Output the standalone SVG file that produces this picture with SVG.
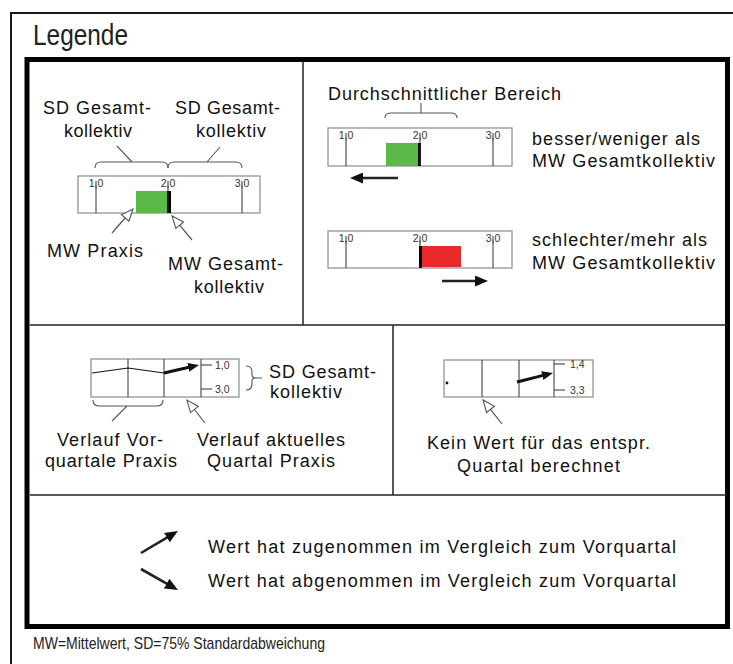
<svg xmlns="http://www.w3.org/2000/svg" width="733" height="664" viewBox="0 0 733 664">
<defs>
<style>
.t{font-family:"Liberation Sans",Arial,sans-serif;font-size:18px;fill:#111}
.s{font-family:"Liberation Sans",Arial,sans-serif;font-size:10.5px;fill:#333}
.frame{fill:none;stroke:#1a1a1a;stroke-width:2}
.div{fill:none;stroke:#222;stroke-width:1.5}
.box{fill:#fff;stroke:#8a8a8a;stroke-width:1.2}
.tick{stroke:#333;stroke-width:1;fill:none}
.br{fill:none;stroke:#555;stroke-width:1.1}
.ptr{fill:none;stroke:#555;stroke-width:1.2;marker-end:url(#hollow)}
.arr{fill:none;stroke:#222;stroke-width:2.6;marker-end:url(#ah)}
.carr{fill:none;stroke:#111;stroke-width:3;marker-end:url(#ahs)}
</style>
<marker id="hollow" viewBox="-1 -1 14 12" refX="0" refY="5" markerWidth="14" markerHeight="12" orient="auto" markerUnits="userSpaceOnUse">
<path d="M0,0 L12,5 L0,10 Z" fill="#fff" stroke="#555" stroke-width="1.1"/>
</marker>
<marker id="ah" viewBox="0 0 13 11" refX="3" refY="5.5" markerWidth="13" markerHeight="11" orient="auto" markerUnits="userSpaceOnUse">
<path d="M0,0 L13,5.5 L0,11 Z" fill="#111"/>
</marker>
<marker id="ahs" viewBox="0 0 11 9" refX="3" refY="4.5" markerWidth="11" markerHeight="9" orient="auto" markerUnits="userSpaceOnUse">
<path d="M0,0 L11,4.5 L0,9 Z" fill="#111"/>
</marker>
</defs>
<rect width="733" height="664" fill="#fff"/>
<g id="frame">
<path class="frame" d="M11,664 L11,13 L733,13"/>
<text x="33" y="45" font-family="'Liberation Sans',Arial,sans-serif" font-size="30" fill="#222" textLength="95" lengthAdjust="spacingAndGlyphs">Legende</text>
<rect x="27" y="59.5" width="700.5" height="567" fill="none" stroke="#000" stroke-width="5"/>
<path class="div" d="M303,62 L303,325 M30,325 L727,325 M393,325 L393,495 M30,495 L727,495"/>
<text x="33" y="649" font-family="'Liberation Sans',Arial,sans-serif" font-size="17" fill="#222" textLength="292" lengthAdjust="spacingAndGlyphs">MW=Mittelwert, SD=75% Standardabweichung</text>
</g>
<g id="panel-sd">
<text class="t" x="43" y="114" textLength="108">SD Gesamt-</text>
<text class="t" x="64" y="137" textLength="68">kollektiv</text>
<text class="t" x="175" y="114" textLength="105">SD Gesamt-</text>
<text class="t" x="196" y="137" textLength="70">kollektiv</text>
<path class="br" d="M95,168 Q95,162 101,162 L162,162 Q168,162 168,168 M132,162 L117,146"/>
<path class="br" d="M168,168 Q168,162 174,162 L236,162 Q242,162 242,168 M207,162 L220,147"/>
<rect class="box" x="78" y="176" width="182" height="37"/>
<rect x="136" y="191" width="31" height="22" fill="#5ab947"/>
<rect x="167" y="191" width="4" height="22" fill="#000"/>
<path class="tick" d="M96,181 L96,213 M168,181 L168,213 M242,181 L242,213"/>
<text class="s" x="96" y="187" text-anchor="middle">1,0</text>
<text class="s" x="168" y="187" text-anchor="middle">2,0</text>
<text class="s" x="242" y="187" text-anchor="middle">3,0</text>
<text class="t" x="47" y="257" textLength="96">MW Praxis</text>
<text class="t" x="168" y="270" textLength="115">MW Gesamt-</text>
<text class="t" x="194" y="293" textLength="70">kollektiv</text>
</g>
<g id="panel-range">
<text class="t" x="328" y="100" textLength="233">Durchschnittlicher Bereich</text>
<path class="br" d="M385,118 Q385,113 391,113 L451,113 Q457,113 457,118 M421,113 L421,103"/>
<rect class="box" x="328" y="128" width="184" height="38"/>
<rect x="386" y="143" width="32" height="23" fill="#5ab947"/>
<rect x="418" y="143" width="3" height="23" fill="#000"/>
<path class="tick" d="M346,133 L346,166 M420,133 L420,166 M493,133 L493,166"/>
<text class="s" x="346" y="139" text-anchor="middle">1,0</text>
<text class="s" x="420" y="139" text-anchor="middle">2,0</text>
<text class="s" x="493" y="139" text-anchor="middle">3,0</text>
<text class="t" x="532" y="145" textLength="168">besser/weniger als</text>
<text class="t" x="532" y="167" textLength="183">MW Gesamtkollektiv</text>
<rect class="box" x="328" y="231" width="184" height="37"/>
<rect x="419" y="246" width="3" height="22" fill="#000"/>
<rect x="422" y="246" width="39" height="21" fill="#e8282a"/>
<path class="tick" d="M346,236 L346,268 M420,236 L420,246 M493,236 L493,268"/>
<text class="s" x="346" y="242" text-anchor="middle">1,0</text>
<text class="s" x="420" y="242" text-anchor="middle">2,0</text>
<text class="s" x="493" y="242" text-anchor="middle">3,0</text>
<text class="t" x="532" y="246" textLength="175">schlechter/mehr als</text>
<text class="t" x="532" y="269" textLength="183">MW Gesamtkollektiv</text>
</g>
<g id="panel-trend">
<rect class="box" x="91" y="359" width="148" height="38"/>
<path class="tick" d="M128,359 L128,397 M164,359 L164,397 M201,359 L201,397 M201,365 L212,365 M201,389 L212,389"/>
<text class="s" x="215" y="369">1,0</text>
<text class="s" x="215" y="393">3,0</text>
<polyline points="92,373 128,368 164,373" fill="none" stroke="#111" stroke-width="1.2"/>
<path class="br" d="M93,400 Q93,406 99,406 L157,406 Q163,406 163,400 M127,406 L112,421"/>
<path class="br" d="M246,366 Q252,366 252,372 L252,375 Q252,378 256,378 L262,378 M256,378 Q252,378 252,381 L252,384 Q252,390 246,390"/>
<text class="t" x="269" y="378" textLength="107">SD Gesamt-</text>
<text class="t" x="270" y="398" textLength="72">kollektiv</text>
<text class="t" x="57" y="446" textLength="106">Verlauf Vor-</text>
<text class="t" x="45" y="467" textLength="132">quartale Praxis</text>
<text class="t" x="197" y="446" textLength="148">Verlauf aktuelles</text>
<text class="t" x="207" y="467" textLength="128">Quartal Praxis</text>
</g>
<g id="panel-missing">
<rect class="box" x="444" y="360" width="149" height="37"/>
<path class="tick" d="M482,360 L482,397 M519,360 L519,397 M554,360 L554,397 M554,364 L565,364 M554,390 L565,390"/>
<text class="s" x="570" y="368">1,4</text>
<text class="s" x="570" y="394">3,3</text>
<circle cx="447" cy="383" r="1.4" fill="#111"/>
<text class="t" x="427" y="449" textLength="223">Kein Wert für das entspr.</text>
<text class="t" x="457" y="472" textLength="163">Quartal berechnet</text>
</g>
<g id="panel-arrows">
<text class="t" x="208" y="553" textLength="468">Wert hat zugenommen im Vergleich zum Vorquartal</text>
<text class="t" x="208" y="587" textLength="468">Wert hat abgenommen im Vergleich zum Vorquartal</text>
</g>
<g id="connectors">
<line class="ptr" x1="112" y1="233" x2="125.1" y2="218"/>
<line class="ptr" x1="192" y1="240" x2="179.7" y2="225.2"/>
<line class="ptr" x1="205" y1="423" x2="194.4" y2="409.5"/>
<line class="ptr" x1="502" y1="424" x2="490.5" y2="409.4"/>
<line class="arr" x1="398" y1="178" x2="360" y2="178"/>
<line class="arr" x1="442" y1="281" x2="478" y2="281"/>
<line class="carr" x1="164" y1="373" x2="191.2" y2="366.8"/>
<line class="carr" x1="517" y1="382" x2="545.2" y2="374.9"/>
<line class="arr" x1="141" y1="553" x2="169.4" y2="536.1" stroke-width="3.2"/>
<line class="arr" x1="141" y1="569" x2="169.3" y2="585.1" stroke-width="3.2"/>
</g>
</svg>
